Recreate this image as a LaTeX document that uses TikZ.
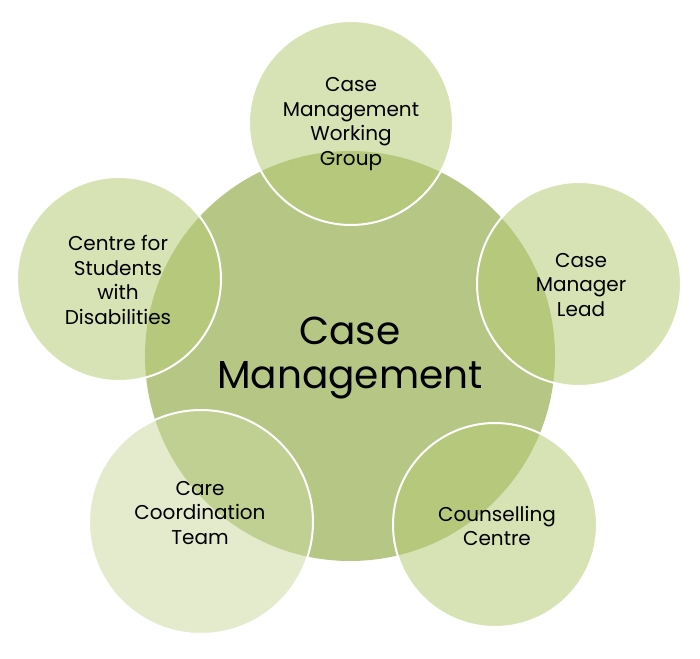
\documentclass[tikz,border=0pt]{standalone}
\usepackage{fontspec}
\setmainfont{Poppins}
\definecolor{bigfill}{RGB}{181,198,133}
\definecolor{satfill}{RGB}{181,203,116}
\definecolor{satfilllight}{RGB}{203,217,159}
\begin{document}
\begin{tikzpicture}[x=1pt,y=-1pt,
  hub/.style={circle,fill=bigfill,inner sep=0pt,minimum size=410pt},
  sat/.style={circle,fill=satfill,fill opacity=0.54,draw=white,draw opacity=1,line width=2pt,inner sep=0pt,minimum size=204pt},
  satlight/.style={sat,fill=satfilllight,fill opacity=0.52,minimum size=224pt},
  sattext/.style={align=center,text=black,font=\fontsize{20}{24.5}\selectfont,inner sep=0pt},
  hubtext/.style={align=center,text=black,font=\fontsize{39}{44}\selectfont,inner sep=0pt}]
\useasboundingbox (0,0) rectangle (700,658);
\node[hub] (hub) at (350,356) {};
\node[sat] (top) at (351,123) {};
\node[sat] (left) at (119,279) {};
\node[sat] (right) at (579,284) {};
\node[sat] (br) at (495,525) {};
\node[satlight] (bl) at (201,522) {};
\node[hubtext] (hubt) at (350,358) {Case\\Management};
\node[sattext] (topt) at (351,124) {Case\\Management\\Working\\Group};
\node[sattext] (leftt) at (118,280) {Centre for\\Students\\with\\Disabilities};
\node[sattext] (rightt) at (581,285) {Case\\Manager\\Lead};
\node[sattext] (brt) at (497,526) {Counselling\\Centre};
\node[sattext] (blt) at (200,513) {Care\\Coordination\\Team};
\end{tikzpicture}
\end{document}
